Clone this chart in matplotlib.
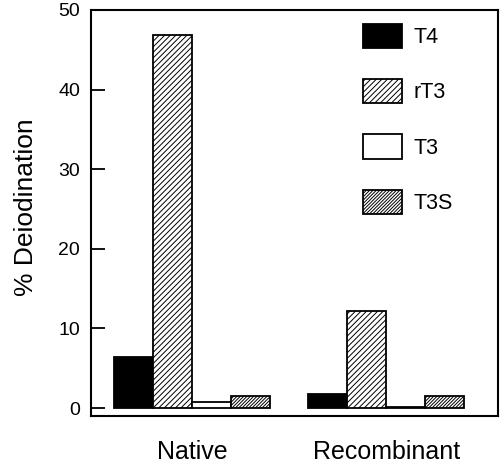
import matplotlib
matplotlib.use("Agg")
import matplotlib.pyplot as plt
import numpy as np

groups = ["Native", "Recombinant"]
series = ["T4", "rT3", "T3", "T3S"]
T4 = [6.4, 1.75]
rT3 = [46.8, 12.2]
T3 = [0.7, 0.1]
T3S = [1.5, 1.45]
yticks = [0, 10, 20, 30, 40, 50]

plt.rcParams['font.family'] = ['Liberation Sans', 'DejaVu Sans']
plt.rcParams['hatch.linewidth'] = 0.7

fig = plt.figure(figsize=(5.01, 4.65), dpi=100)
ax = fig.add_axes([91/501, 1-416/465, (498-91)/501, (416-10)/465])

x = np.arange(len(groups))
w = 0.2
styles = [dict(facecolor='black', hatch=None),
          dict(facecolor='white', hatch='//////'),
          dict(facecolor='white', hatch=None),
          dict(facecolor='white', hatch='//////////')]
vals = [T4, rT3, T3, T3S]
for i, (name, v, st) in enumerate(zip(series, vals, styles)):
    ax.bar(x + (i - 1.5) * w, v, width=w, edgecolor='black', linewidth=1.3,
           label=name, **st)

ax.set_xlim(-0.521, 1.577)
ax.set_ylim(-1, 49.8)
ax.set_yticks(yticks)
ax.set_yticklabels([str(t) for t in yticks], fontsize=14)
ax.tick_params(axis='y', direction='in', length=10, width=1.3, pad=8)
ax.set_xticks(x)
ax.set_xticklabels(groups, fontsize=18)
ax.tick_params(axis='x', length=0, pad=17)
for s in ax.spines.values():
    s.set_linewidth(1.5)
ax.set_ylabel("% Deiodination", fontsize=19)
ax.yaxis.set_label_coords(-(91-38)/407, (416-207)/406)

fs = 15.5
fpx = fs * 100 / 72
leg = ax.legend(loc='upper left', bbox_to_anchor=((363-91)/407, (416-24)/406),
                frameon=False, fontsize=fs, handlelength=39/fpx, handleheight=29/fpx,
                labelspacing=(55-24)/fpx, handletextpad=11/fpx, borderpad=0, borderaxespad=0)

fig.savefig("out.png", dpi=100)
